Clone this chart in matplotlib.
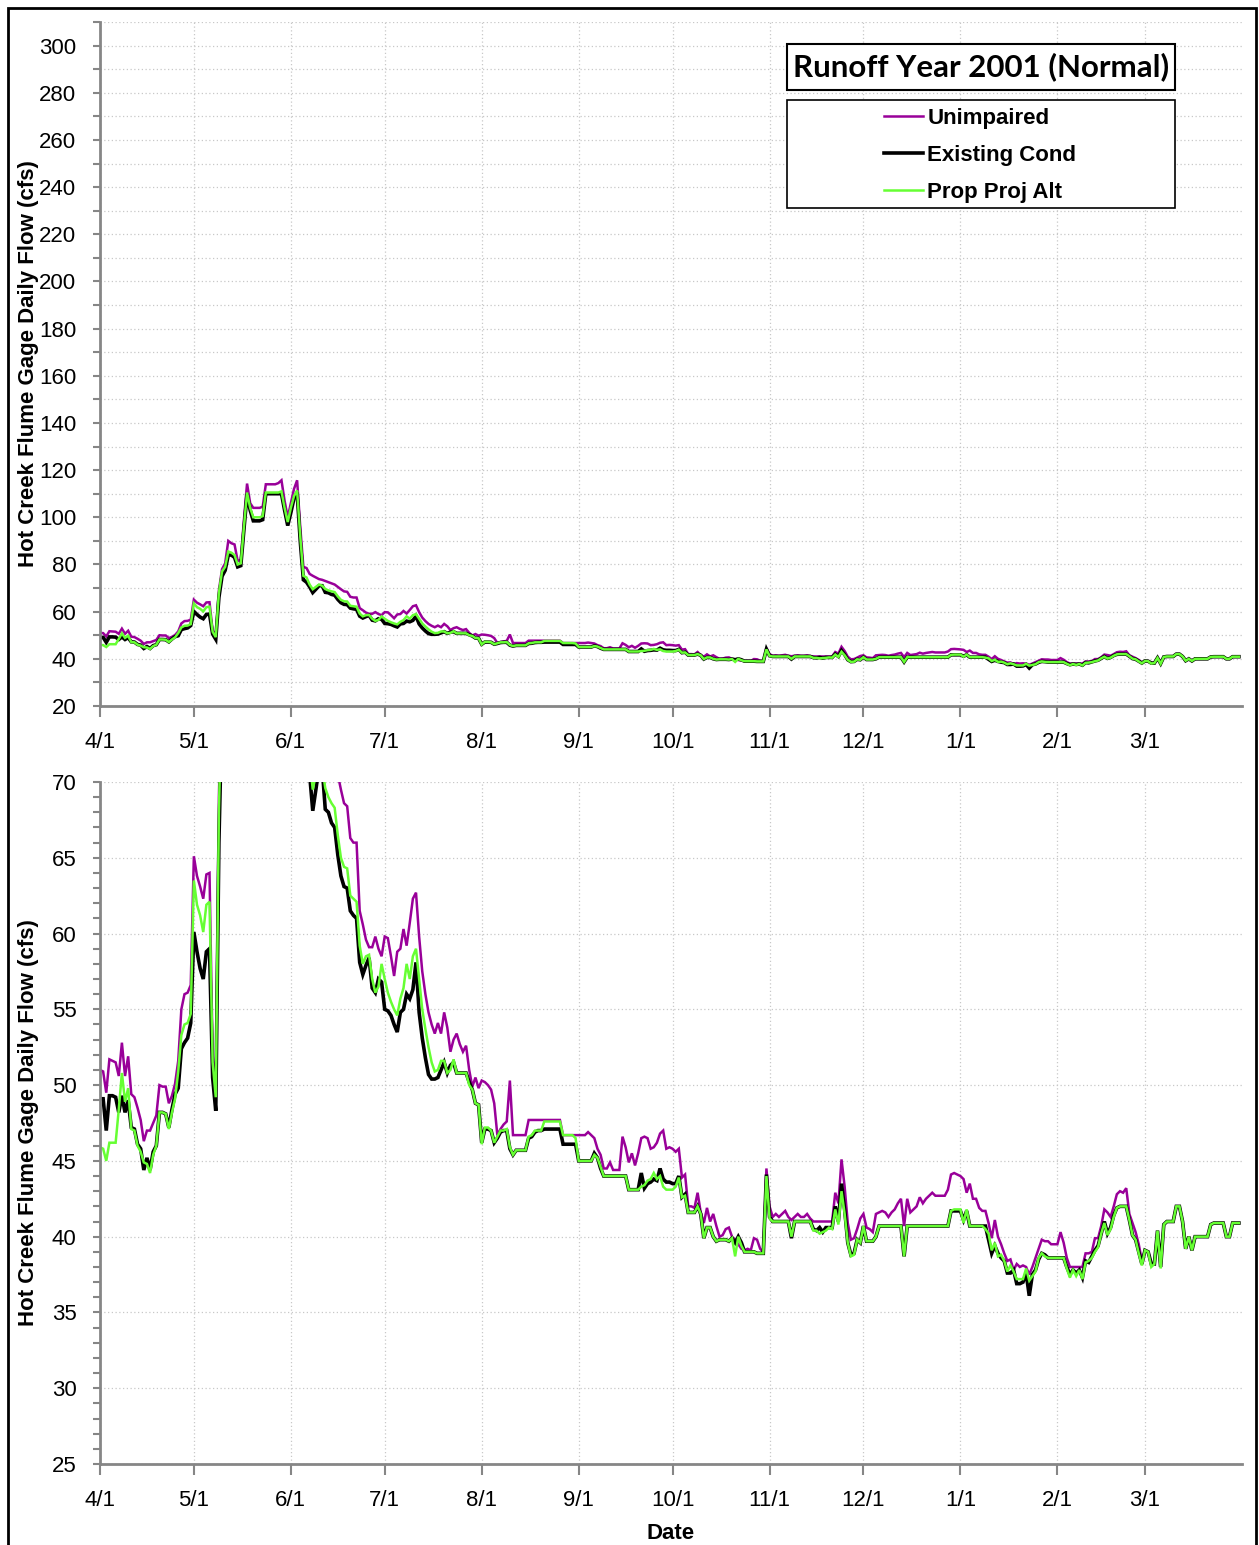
import pandas as pd
import matplotlib
matplotlib.use('Agg')
import matplotlib.pyplot as plt
from matplotlib.ticker import MultipleLocator
from matplotlib.patches import Rectangle
from matplotlib.lines import Line2D

plt.rcParams['font.family'] = ['Liberation Sans', 'DejaVu Sans']

# Daily flows (cfs), runoff year 4/1/2001 - 3/31/2002
unimpaired = [
    # Apr
    51.0, 50.9, 49.5, 51.7, 51.6, 51.5, 50.6, 52.8, 50.6, 51.9,
    49.4, 49.2, 48.5, 47.7, 46.3, 47.0, 47.0, 47.5, 48.0, 50.0,
    49.9, 49.9, 48.8, 49.3, 50.1, 51.6, 55.0, 56.0, 56.1, 56.6,
    # May
    65.1, 63.8, 63.1, 62.3, 63.9, 64.0, 52.0, 49.5, 69.0, 78.0,
    80.5, 90.0, 89.0, 88.5, 81.5, 82.0, 99.0, 114.3, 106.0, 104.0,
    104.0, 104.0, 104.5, 114.0, 114.0, 114.0, 114.0, 114.5, 115.7, 107.0, 100.0,
    # Jun
    106.0, 112.0, 115.7, 96.0, 79.0, 78.5, 76.0, 75.2, 74.5, 73.8,
    73.5, 73.0, 72.5, 72.0, 71.5, 70.5, 69.5, 68.6, 68.4, 66.3,
    66.0, 66.0, 61.5, 60.6, 59.6, 59.1, 59.1, 59.8, 59.0, 58.5,
    # Jul
    59.8, 59.7, 58.5, 57.2, 58.8, 59.0, 60.3, 59.2, 60.7, 62.3,
    62.7, 59.8, 57.5, 56.0, 54.8, 54.0, 53.4, 54.1, 53.4, 54.8,
    53.8, 52.2, 53.0, 53.4, 52.7, 52.2, 52.6, 51.0, 49.9, 50.5, 49.8,
    # Aug
    50.3, 50.2, 50.0, 49.7, 48.8, 46.7, 47.1, 47.4, 47.6, 50.3,
    46.7, 46.7, 46.7, 46.7, 46.7, 47.7, 47.7, 47.7, 47.7, 47.7,
    47.7, 47.7, 47.7, 47.7, 47.7, 47.7, 46.7, 46.7, 46.7, 46.7, 46.7,
    # Sep
    46.7, 46.7, 46.7, 46.9, 46.7, 46.5, 45.8, 45.4, 44.5, 44.5,
    44.9, 44.4, 44.4, 44.4, 46.6, 45.9, 44.9, 45.5, 44.7, 45.5,
    46.5, 46.6, 46.5, 45.8, 45.9, 46.2, 46.8, 47.0, 45.8, 45.9,
    # Oct
    45.8, 45.6, 45.8, 43.9, 44.1, 42.0, 42.0, 41.9, 42.9, 41.6,
    40.9, 41.9, 41.0, 41.5, 40.7, 40.0, 40.1, 40.5, 40.6, 40.0,
    39.8, 39.5, 39.2, 39.1, 39.2, 39.1, 39.9, 39.8, 39.2, 39.0, 44.5,
    # Nov
    42.0, 41.3, 41.5, 41.3, 41.5, 41.7, 41.3, 41.1, 41.3, 41.5,
    41.3, 41.3, 41.5, 41.2, 41.0, 41.0, 41.0, 41.0, 41.0, 41.0,
    41.0, 42.9, 42.2, 45.1, 43.3, 40.9, 39.8, 39.9, 40.5, 41.2,
    # Dec
    41.5, 40.6, 40.5, 40.3, 41.5, 41.6, 41.7, 41.6, 41.3, 41.6,
    41.8, 42.2, 42.5, 40.7, 42.5, 41.6, 41.8, 42.0, 42.6, 42.2,
    42.5, 42.7, 42.9, 42.7, 42.7, 42.7, 42.7, 43.1, 44.1, 44.2, 44.1,
    # Jan
    44.0, 43.8, 42.9, 43.5, 42.5, 42.5, 41.9, 41.7, 41.7, 40.9,
    39.9, 41.1, 40.0, 39.5, 38.9, 38.4, 38.5, 37.8, 38.2, 38.0,
    38.1, 38.0, 37.5, 38.0, 38.6, 39.2, 39.8, 39.7, 39.7, 39.5, 39.5,
    # Feb
    39.5, 40.3, 39.6, 38.6, 38.0, 38.0, 38.0, 38.0, 38.0, 38.9,
    38.9, 39.0, 39.9, 39.9, 40.7, 41.8, 41.6, 41.3, 42.0, 42.8,
    43.0, 42.9, 43.2, 41.5, 40.9, 40.3, 39.5, 38.4,
    # Mar
    39.1, 39.0, 38.2, 38.2, 40.4, 38.0, 40.8, 41.0, 41.0, 41.0,
    42.0, 42.0, 41.0, 39.2, 40.0, 39.1, 40.0, 40.0, 40.0, 40.0,
    40.0, 40.8, 40.9, 40.9, 40.9, 40.9, 40.0, 40.0, 40.9, 40.9, 40.9,
]

existing = [
    # Apr
    49.1, 49.1, 47.0, 49.3, 49.3, 49.2, 48.2, 49.3, 48.2, 49.0,
    47.2, 47.1, 46.1, 45.8, 44.4, 45.2, 44.4, 45.6, 46.0, 48.2,
    48.2, 48.1, 47.2, 48.4, 49.4, 49.8, 52.4, 52.8, 53.1, 54.1,
    # May
    60.1, 58.8, 57.7, 57.0, 58.8, 59.0, 50.5, 48.3, 66.0, 75.0,
    77.5, 84.0, 84.0, 83.0, 79.0, 79.5, 95.0, 110.0, 103.0, 98.5,
    98.5, 98.5, 99.0, 110.0, 110.0, 110.0, 110.0, 110.0, 110.0, 103.0, 96.5,
    # Jun
    102.0, 108.0, 110.5, 90.0, 73.5, 72.5, 70.5, 68.1, 69.5, 71.0,
    71.0, 68.2, 68.0, 67.3, 67.0, 65.2, 63.8, 63.1, 63.0, 61.5,
    61.2, 61.0, 58.1, 57.3, 57.9, 58.4, 56.4, 56.1, 57.0, 56.8,
    # Jul
    55.0, 54.9, 54.6, 54.0, 53.5, 54.8, 55.0, 56.0, 55.7, 56.3,
    58.1, 54.8, 53.1, 51.8, 50.7, 50.4, 50.4, 50.5, 51.0, 51.5,
    50.8, 51.3, 51.5, 50.8, 50.8, 50.8, 50.8, 50.2, 49.7, 48.8, 48.7,
    # Aug
    46.2, 47.1, 47.1, 47.0, 46.2, 46.5, 46.9, 47.0, 47.0, 45.8,
    45.4, 45.7, 45.7, 45.7, 45.7, 46.5, 46.6, 46.9, 47.0, 47.0,
    47.1, 47.1, 47.1, 47.1, 47.1, 47.1, 46.1, 46.1, 46.1, 46.1, 46.1,
    # Sep
    45.0, 45.0, 45.0, 45.0, 45.0, 45.5, 45.2, 44.5, 44.0, 44.0,
    44.0, 44.0, 44.0, 44.0, 44.0, 44.0, 43.1, 43.1, 43.1, 43.1,
    44.2, 43.2, 43.5, 43.6, 43.8, 43.7, 44.5, 43.8, 43.6, 43.6,
    # Oct
    43.5, 43.5, 44.0, 42.6, 42.8, 41.6, 41.6, 41.6, 42.0, 41.5,
    39.9, 40.6, 40.6, 40.0, 39.7, 39.8, 39.8, 39.8, 39.7, 39.9,
    39.6, 40.0, 39.6, 39.0, 39.0, 39.0, 39.0, 38.9, 38.9, 38.9, 44.1,
    # Nov
    41.3, 41.0, 41.0, 41.0, 41.0, 41.0, 41.0, 39.9, 41.0, 41.0,
    41.0, 41.0, 41.0, 41.0, 40.5, 40.4, 40.6, 40.3, 40.6, 40.6,
    40.6, 42.0, 41.0, 43.5, 41.8, 39.6, 38.8, 38.9, 39.8, 39.6,
    # Dec
    40.7, 39.7, 39.7, 39.7, 40.0, 40.7, 40.7, 40.7, 40.7, 40.7,
    40.7, 40.7, 40.7, 38.7, 40.7, 40.7, 40.7, 40.7, 40.7, 40.7,
    40.7, 40.7, 40.7, 40.7, 40.7, 40.7, 40.7, 40.7, 41.7, 41.7, 41.7,
    # Jan
    41.7, 41.1, 41.7, 40.7, 40.7, 40.7, 40.7, 40.7, 40.7, 39.8,
    38.9, 39.4, 38.9, 38.6, 38.4, 37.6, 37.6, 37.8, 36.9, 36.9,
    37.0, 37.6, 36.1, 37.5, 37.8, 38.5, 38.9, 38.8, 38.6, 38.6, 38.6,
    # Feb
    38.6, 38.6, 38.6, 38.0, 37.5, 37.8, 37.6, 37.8, 37.3, 38.4,
    38.3, 38.7, 39.1, 39.4, 40.2, 41.0, 40.2, 40.6, 41.4, 41.9,
    42.0, 42.0, 42.0, 41.1, 40.1, 39.8, 39.0, 38.2,
    # Mar
    39.1, 39.0, 38.2, 38.2, 40.4, 38.0, 40.8, 41.0, 41.0, 41.0,
    42.0, 42.0, 41.0, 39.2, 40.0, 39.1, 40.0, 40.0, 40.0, 40.0,
    40.0, 40.8, 40.9, 40.9, 40.9, 40.9, 40.0, 40.0, 40.9, 40.9, 40.9,
]

prop_alt = [
    # Apr
    45.9, 45.8, 45.0, 46.2, 46.2, 46.2, 48.4, 50.8, 48.9, 49.8,
    47.1, 47.0, 46.0, 45.6, 44.9, 44.8, 44.2, 45.4, 46.0, 48.2,
    48.2, 48.1, 47.1, 48.2, 49.1, 50.9, 53.3, 54.0, 54.1, 54.7,
    # May
    63.5, 61.9, 61.2, 60.1, 61.9, 62.1, 51.5, 49.2, 68.0, 77.0,
    79.0, 85.5, 85.0, 84.0, 80.0, 80.5, 96.0, 110.5, 104.0, 100.0,
    100.0, 100.0, 100.5, 110.5, 110.5, 110.5, 110.5, 110.5, 111.0, 104.0, 98.0,
    # Jun
    104.0, 109.0, 111.4, 92.0, 75.2, 74.5, 71.5, 69.5, 70.5, 71.5,
    71.0, 69.6, 69.0, 68.6, 68.3, 66.5, 65.0, 64.4, 64.3, 62.5,
    62.3, 62.1, 59.2, 58.0, 58.5, 58.6, 57.0, 56.1, 56.5, 58.0,
    # Jul
    57.0, 56.1, 55.5, 55.0, 54.6, 55.7, 56.4, 58.0, 57.0, 58.5,
    59.0, 57.0, 55.0, 53.7, 52.5, 51.5, 50.9, 51.0, 51.6, 51.6,
    50.8, 51.0, 51.7, 50.8, 50.8, 50.8, 50.8, 50.0, 49.7, 48.8, 48.7,
    # Aug
    46.1, 47.2, 47.2, 47.0, 46.2, 46.6, 47.0, 47.0, 47.1, 45.9,
    45.4, 45.7, 45.7, 45.7, 45.7, 46.6, 46.7, 47.0, 47.0, 47.0,
    47.6, 47.6, 47.6, 47.6, 47.6, 47.6, 46.7, 46.7, 46.7, 46.7, 46.5,
    # Sep
    45.0, 45.0, 45.0, 45.0, 45.0, 45.4, 45.2, 44.6, 44.0, 44.0,
    44.0, 44.0, 44.0, 44.0, 44.0, 44.0, 43.1, 43.1, 43.1, 43.1,
    43.3, 43.4, 43.7, 43.8, 44.2, 43.8, 44.0, 43.3, 43.1, 43.1,
    # Oct
    43.1, 43.3, 43.9, 42.6, 42.7, 41.6, 41.6, 41.6, 42.0, 41.5,
    39.9, 40.6, 40.6, 40.0, 39.7, 39.8, 39.8, 39.8, 39.7, 39.9,
    38.7, 40.0, 39.4, 39.0, 39.0, 39.0, 39.0, 38.9, 38.9, 38.9, 44.0,
    # Nov
    41.2, 41.0, 41.0, 41.0, 41.0, 41.0, 41.0, 40.0, 41.0, 41.0,
    41.0, 41.0, 41.0, 41.0, 40.4, 40.4, 40.2, 40.3, 40.4, 40.6,
    40.5, 41.8, 40.8, 43.0, 41.5, 39.6, 38.7, 38.8, 39.8, 39.6,
    # Dec
    40.7, 39.7, 39.7, 39.7, 40.0, 40.7, 40.7, 40.7, 40.7, 40.7,
    40.7, 40.7, 40.7, 38.7, 40.7, 40.7, 40.7, 40.7, 40.7, 40.7,
    40.7, 40.7, 40.7, 40.7, 40.7, 40.7, 40.7, 40.7, 41.7, 41.8, 41.8,
    # Jan
    41.8, 40.9, 41.8, 40.7, 40.7, 40.7, 40.7, 40.7, 40.5, 40.2,
    39.1, 39.6, 38.7, 38.8, 38.4, 37.7, 38.1, 37.7, 37.2, 37.2,
    37.2, 37.9, 37.1, 37.4, 37.7, 38.6, 38.9, 38.7, 38.6, 38.6, 38.6,
    # Feb
    38.6, 38.6, 38.6, 37.9, 37.3, 37.8, 37.4, 37.8, 37.2, 38.3,
    38.4, 38.6, 39.0, 39.3, 40.2, 40.9, 40.1, 40.5, 41.3, 41.9,
    42.0, 42.0, 42.0, 41.1, 40.1, 39.8, 38.9, 38.1,
    # Mar
    39.1, 39.0, 38.0, 38.2, 40.4, 37.9, 40.8, 41.0, 41.0, 41.0,
    42.0, 42.0, 41.0, 39.2, 40.0, 39.1, 40.0, 40.0, 40.0, 40.0,
    40.0, 40.8, 40.9, 40.9, 40.9, 40.9, 40.0, 40.0, 40.9, 40.9, 40.9,
]

dates = pd.date_range('2001-04-01', '2002-03-31', freq='D')
month_ticks = pd.date_range('2001-04-01', '2002-03-01', freq='MS')
month_labels = ['4/1', '5/1', '6/1', '7/1', '8/1', '9/1',
                '10/1', '11/1', '12/1', '1/1', '2/1', '3/1']
series_names = ['Unimpaired', 'Existing Cond', 'Prop Proj Alt']
colors = ['#990099', '#000000', '#66FF33']
widths = [1.8, 2.6, 1.8]

W, H = 1259, 1545
fig = plt.figure(figsize=(W / 100, H / 100), dpi=100)
ax1 = fig.add_axes([100 / W, 1 - 706 / H, 1142 / W, 684 / H])
ax2 = fig.add_axes([100 / W, 1 - 1464 / H, 1142 / W, 682 / H])

gray = '#868686'
gridkw = dict(color='#c8c8c8', linestyle=(0, (1, 2)), linewidth=0.9)

for ax in (ax1, ax2):
    for vals, c, lw in zip([unimpaired, existing, prop_alt], colors, widths):
        ax.plot(dates, vals, color=c, linewidth=lw, solid_joinstyle='miter')
    ax.set_xlim(dates[0], dates[-1] + pd.Timedelta(days=1))
    ax.set_xticks(month_ticks)
    ax.set_xticklabels(month_labels)
    for s in ['top', 'right']:
        ax.spines[s].set_visible(False)
    for s in ['left', 'bottom']:
        ax.spines[s].set_color(gray)
        ax.spines[s].set_linewidth(2)
    ax.tick_params(axis='both', which='both', color=gray, width=1.5, labelsize=16)
    ax.tick_params(axis='y', which='both', length=5, pad=12)
    ax.tick_params(axis='x', length=8, pad=11)
    ax.grid(True, which='major', axis='x', **gridkw)
    ax.set_ylabel('Hot Creek Flume Gage Daily Flow (cfs)', fontsize=16, fontweight='bold')
    ax.yaxis.set_label_coords(-0.053, 0.5)
    ax.set_axisbelow(True)

ax1.set_ylim(20, 310)
ax1.yaxis.set_major_locator(MultipleLocator(20))
ax1.yaxis.set_minor_locator(MultipleLocator(10))
ax1.grid(True, which='both', axis='y', **gridkw)

ax2.set_ylim(25, 70)
ax2.yaxis.set_major_locator(MultipleLocator(5))
ax2.yaxis.set_minor_locator(MultipleLocator(1))
ax2.grid(True, which='major', axis='y', **gridkw)
ax2.set_xlabel('Date', fontsize=16, fontweight='bold')
ax2.xaxis.set_label_coords(0.5, -0.086)

# title box and legend box in the top panel
bx0, bw = (787 - 100) / 1142, (1175 - 787) / 1142
ax1.add_patch(Rectangle((bx0, (706 - 90) / 684), bw, 46 / 684, transform=ax1.transAxes,
                        facecolor='white', edgecolor='black', linewidth=1.5, zorder=5))
ax1.text(bx0 + bw / 2, (706 - 67) / 684, 'Runoff Year 2001 (Normal)', transform=ax1.transAxes,
         ha='center', va='center', fontsize=22.5, fontweight='bold',
         family=['Lato', 'DejaVu Sans'], zorder=6)
ax1.add_patch(Rectangle((bx0, (706 - 208) / 684), bw, 108 / 684, transform=ax1.transAxes,
                        facecolor='white', edgecolor='black', linewidth=1.2, zorder=5))
handles = [Line2D([], [], color=c, linewidth=lw) for c, lw in zip(colors, widths)]
leg = ax1.legend(handles, series_names, loc='upper left',
                 bbox_to_anchor=((875 - 100) / 1142, (706 - 99) / 684),
                 frameon=False, prop={'size': 16, 'weight': 'bold'},
                 handlelength=1.75, handletextpad=0.2, labelspacing=0.72,
                 borderaxespad=0)
leg.set_zorder(7)

# outer chart border
fig.add_artist(Rectangle((8 / W, -0.01), (1256 - 8) / W, 1.01 - 8 / H,
                         transform=fig.transFigure, fill=False,
                         edgecolor='black', linewidth=2))

fig.savefig('out.png', dpi=100)
